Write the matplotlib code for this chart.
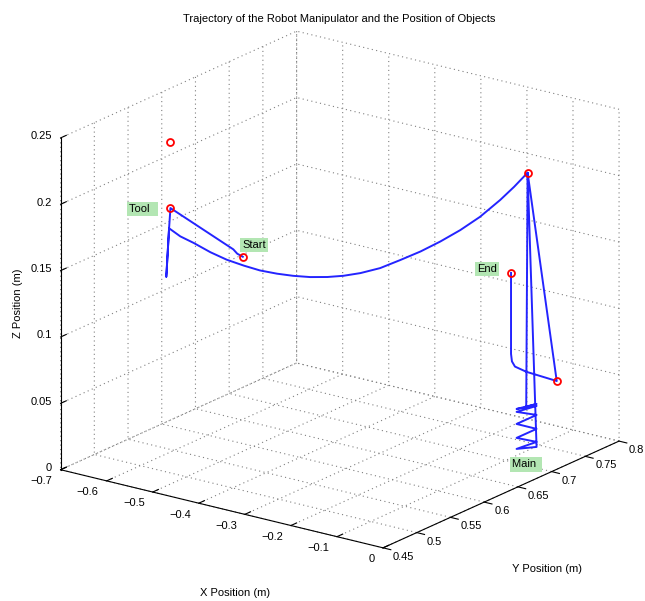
import numpy as np
import matplotlib
matplotlib.use("Agg")
import matplotlib.pyplot as plt
from matplotlib.ticker import NullFormatter

# ---------------------------------------------------------------------------
# Data (metres)
# ---------------------------------------------------------------------------
# End-effector trajectory: start -> tool -> tool descent -> transfer arc ->
# spiral at the main object -> back up -> final approach to the end point
traj_x = [-0.407, -0.419, -0.429, -0.564, -0.567, -0.573,
          -0.567, -0.550, -0.531, -0.508, -0.484, -0.460, -0.437, -0.413,
          -0.390, -0.366, -0.342, -0.319, -0.295, -0.267, -0.238, -0.210,
          -0.182, -0.153, -0.125, -0.097, -0.077, -0.058,
          -0.060,
          -0.0453, -0.0736, -0.0453, -0.0736, -0.0453, -0.0736, -0.0453,
          -0.0736, -0.0453, -0.0736, -0.0453,
          -0.058, -0.027, -0.099, -0.125, -0.133, -0.135, -0.135]
traj_y = [0.520, 0.520, 0.521, 0.520, 0.520, 0.520,
          0.520, 0.525, 0.532, 0.541, 0.549, 0.558, 0.566, 0.575,
          0.583, 0.592, 0.601, 0.609, 0.618, 0.628, 0.638, 0.649,
          0.659, 0.669, 0.679, 0.690, 0.697, 0.704,
          0.7033,
          0.7086, 0.6983, 0.7086, 0.6983, 0.7086, 0.6983, 0.7086,
          0.6983, 0.7086, 0.6983, 0.7086,
          0.704, 0.726, 0.730, 0.731, 0.732, 0.732, 0.732]
traj_z = [0.169, 0.1703, 0.1725, 0.1925, 0.177, 0.140,
          0.177, 0.1712, 0.1662, 0.1591, 0.1536, 0.1491, 0.1456, 0.1431,
          0.1416, 0.1406, 0.1406, 0.1416, 0.1436, 0.1474, 0.1536, 0.1599,
          0.1674, 0.1762, 0.1862, 0.1988, 0.2088, 0.2194,
          0.0429,
          0.0452, 0.0414, 0.0437, 0.0392, 0.0369, 0.0301, 0.0264,
          0.0196, 0.0166, 0.0113, 0.0128,
          0.2194, 0.060, 0.060, 0.0615, 0.0645, 0.070, 0.131]

# Object / waypoint positions
obj_x = [-0.564, -0.564, -0.407, -0.058, -0.135, -0.027]
obj_y = [0.520, 0.520, 0.520, 0.704, 0.732, 0.726]
obj_z = [0.242, 0.1925, 0.169, 0.2194, 0.131, 0.060]

# Annotations
label_text = ["Tool  ", "Start", "End", "Main "]
label_x = [-0.6535, -0.4087, -0.2084, -0.0779]
label_y = [0.520, 0.520, 0.732, 0.695]
label_z = [0.1842, 0.178, 0.1275, 0.0]

# Axes ticks
x_ticks = [-0.7, -0.6, -0.5, -0.4, -0.3, -0.2, -0.1, 0.0]
x_tick_labels = ["\u22120.7", "\u22120.6", "\u22120.5", "\u22120.4",
                 "\u22120.3", "\u22120.2", "\u22120.1", "0"]
y_ticks = [0.45, 0.50, 0.55, 0.60, 0.65, 0.70, 0.75, 0.80]
y_tick_labels = ["0.45", "0.5", "0.55", "0.6", "0.65", "0.7", "0.75", "0.8"]
z_ticks = [0.0, 0.05, 0.10, 0.15, 0.20, 0.25]
z_tick_labels = ["0", "0.05", "0.1", "0.15", "0.2", "0.25"]

# ---------------------------------------------------------------------------
# Style
# ---------------------------------------------------------------------------
W, H = 645, 601
plt.rcParams.update({
    "font.family": ["Liberation Sans", "DejaVu Sans"],
    "font.size": 8,
    "grid.color": "#808080",
    "grid.linestyle": (0, (1, 3)),
    "grid.linewidth": 0.8,
    "axes.edgecolor": "black",
    "axes.linewidth": 0.8,
    "xtick.color": "black",
    "ytick.color": "black",
    "xtick.major.width": 0.8,
    "ytick.major.width": 0.8,
})

xlim = (-0.7, 0.0)
ylim = (0.45, 0.80)
zlim = (0.0, 0.25)

fig = plt.figure(figsize=(W / 100, H / 100), dpi=100)
ax = fig.add_axes([0.15, 0.15, 400 / W, 400 / H], projection="3d",
                  proj_type="ortho", computed_zorder=False)
ax.view_init(elev=19.33, azim=-53.8)
ax.set_box_aspect((1.0, 1.0, 0.88))
ax.set_xlim(*xlim)
ax.set_ylim(*ylim)
ax.set_zlim(*zlim)
ax.set_xticks(x_ticks)
ax.set_yticks(y_ticks)
ax.set_zticks(z_ticks)

# z axis on the left-front vertical edge
ax.zaxis.set_ticks_position("lower")
ax.zaxis.set_label_position("lower")

# (inward_factor, outward_factor); "outward" extends toward the back panes
tick_factors = {ax.xaxis: (0.0, 0.3), ax.yaxis: (0.3, 0.0),
                ax.zaxis: (0.0, 0.3)}
for axis, (f_in, f_out) in tick_factors.items():
    axis.set_pane_color((1, 1, 1, 0))
    axis.set_major_formatter(NullFormatter())
    axis.set_tick_params(labelbottom=False, labeltop=False)
    axis.line.set_color("black")
    axis.line.set_linewidth(0.8)
    axis._axinfo["tick"]["inward_factor"] = f_in
    axis._axinfo["tick"]["outward_factor"] = f_out

# Fit the projected box onto the intended screen footprint
corner_data = np.array([
    [xlim[0], ylim[0], zlim[0]],
    [xlim[1], ylim[0], zlim[0]],
    [xlim[1], ylim[1], zlim[0]],
    [xlim[0], ylim[1], zlim[1]],
    [xlim[1], ylim[1], zlim[1]],
    [xlim[0], ylim[0], zlim[1]],
])
corner_px = np.array([[60.5, 470], [382.5, 548], [619, 441],
                      [297, 31], [619, 109], [61, 138]], float)
target = np.column_stack([corner_px[:, 0], H - corner_px[:, 1]])


def projected_corners():
    fig.canvas.draw()
    M = ax.get_proj()
    hom = np.column_stack([corner_data, np.ones(len(corner_data))]) @ M.T
    xy = hom[:, :2] / hom[:, 3:4]
    return ax.transData.transform(xy)


for _ in range(2):
    pos = ax.get_position()
    x0, y0, side = pos.x0 * W, pos.y0 * H, pos.width * W
    rel = (projected_corners() - [x0, y0]) / side
    rc, tc = rel.mean(0), target.mean(0)
    L = np.sum((rel - rc) * (target - tc)) / np.sum((rel - rc) ** 2)
    org = tc - L * rc
    ax.set_position([org[0] / W, org[1] / H, L / W, L / H])

# ---------------------------------------------------------------------------
# Marks
# ---------------------------------------------------------------------------
ax.plot(traj_x, traj_y, traj_z, color="#2424ff", linewidth=1.4, zorder=2)
ax.plot(obj_x, obj_y, obj_z, linestyle="none", marker="o", markersize=5,
        markerfacecolor="none", markeredgecolor="red", markeredgewidth=1.3,
        zorder=3)

for t, lx, ly, lz in zip(label_text, label_x, label_y, label_z):
    ax.text(lx, ly, lz, t, ha="left", va="center", fontsize=8, zorder=4,
            bbox=dict(facecolor=(0.7, 0.9, 0.7), edgecolor="none", pad=1.5))

# Tick labels
for v, t in zip(x_ticks, x_tick_labels):
    ax.text(v, ylim[0] - 0.0118, zlim[0] - 0.0059, t, ha="right", va="center")
for v, t in zip(y_ticks, y_tick_labels):
    ax.text(xlim[1] + 0.0217, v, zlim[0] - 0.0050, t, ha="left", va="center")
for v, t in zip(z_ticks, z_tick_labels):
    ax.text(xlim[0], ylim[0] - 0.0133, v + 0.0042, t, ha="right", va="center")

# Titles
fig.text(339 / W, 1 - 19 / H,
         "Trajectory of the Robot Manipulator and the Position of Objects",
         ha="center", va="center", fontsize=8)
fig.text(235 / W, 1 - 592.5 / H, "X Position (m)", ha="center", va="center")
fig.text(546.7 / W, 1 - 569 / H, "Y Position (m)", ha="center", va="center")
fig.text(18 / W, 1 - 303 / H, "Z Position (m)", ha="center", va="center",
         rotation=90)

fig.savefig("out.png", dpi=100)
